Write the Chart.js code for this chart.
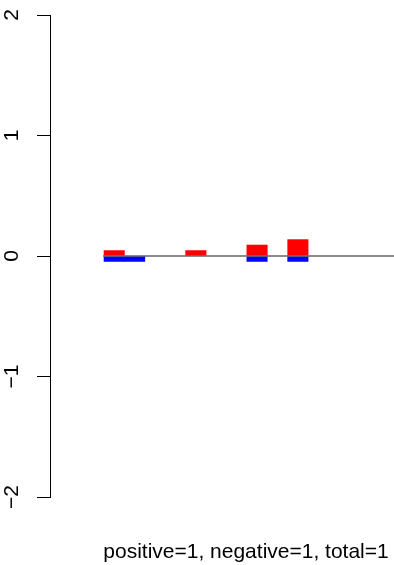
<!DOCTYPE html>
<html>
<head>
<meta charset="utf-8">
<script src="https://cdn.jsdelivr.net/npm/chart.js@4/dist/chart.umd.min.js"></script>
<style>
  html, body { margin: 0; padding: 0; background: #fff; }
  #wrap { width: 394px; height: 565px; }
</style>
</head>
<body>
<div id="wrap"><canvas id="barChart" width="394" height="565"></canvas></div>
<script>
// bar slots, 0-based, one unit per bar
const positions = [0, 1, 2, 3, 4, 5, 6, 7, 8, 9, 10, 11, 12, 13];
const positiveValues = [0.045, 0, 0, 0, 0.045, 0, 0, 0.091, 0, 0.136, 0, 0, 0, 0];
const negativeValues = [-0.045, -0.045, 0, 0, 0, 0, 0, -0.045, 0, -0.045, 0, 0, 0, 0];
const yTicks = [-2, -1, 0, 1, 2];
const caption = 'positive=1, negative=1, total=1';

// empty bars are left out (null) so nothing is drawn for them
const toPoints = vals => vals.map((v, i) => ({ x: positions[i] + 0.5, y: v === 0 ? null : v }));

const labelPlugin = {
    id: 'rLabels',
    afterDraw(chart) {
        const ctx = chart.ctx;
        const y = chart.scales.y;
        ctx.save();
        ctx.fillStyle = '#000';
        ctx.font = '21px "Liberation Sans", Arial, sans-serif';
        ctx.textAlign = 'center';
        ctx.textBaseline = 'middle';
        yTicks.forEach(t => {
            const py = y.getPixelForValue(t);
            ctx.save();
            ctx.translate(12, py);
            ctx.rotate(-Math.PI / 2);
            ctx.fillText(t < 0 ? '\u2212' + Math.abs(t) : String(t), 0, 0);
            ctx.restore();
        });
        ctx.textBaseline = 'alphabetic';
        ctx.fillText(caption, 246, 558);
        ctx.restore();
    }
};

const barStyle = { grouped: false, barPercentage: 1, categoryPercentage: 1, borderWidth: 0, order: 1 };

new Chart(document.getElementById('barChart').getContext('2d'), {
    type: 'bar',
    data: {
        datasets: [
            {
                type: 'line',
                data: [{ x: -0.05, y: 0 }, { x: 14.21, y: 0 }],
                borderColor: '#666666',
                borderWidth: 1.4,
                pointRadius: 0,
                order: 0
            },
            Object.assign({ data: toPoints(positiveValues), backgroundColor: '#ff0000' }, barStyle),
            Object.assign({ data: toPoints(negativeValues), backgroundColor: '#0000ff' }, barStyle)
        ]
    },
    options: {
        responsive: false,
        animation: false,
        layout: { padding: { top: 15, bottom: 68, left: 0, right: 0 } },
        scales: {
            x: {
                type: 'linear',
                min: -2.647,
                max: 14.21,
                offset: false,
                grid: { offset: false },
                display: false
            },
            y: {
                min: -2,
                max: 2,
                afterFit: s => { s.width = 50; },
                afterBuildTicks: s => { s.ticks = yTicks.map(v => ({ value: v })); },
                ticks: { display: false },
                grid: { drawOnChartArea: false, drawTicks: true, tickLength: 13, color: '#000', lineWidth: 1 },
                border: { display: true, color: '#000', width: 1 }
            }
        },
        plugins: { legend: { display: false }, tooltip: { enabled: false } }
    },
    plugins: [labelPlugin]
});
</script>
</body>
</html>
